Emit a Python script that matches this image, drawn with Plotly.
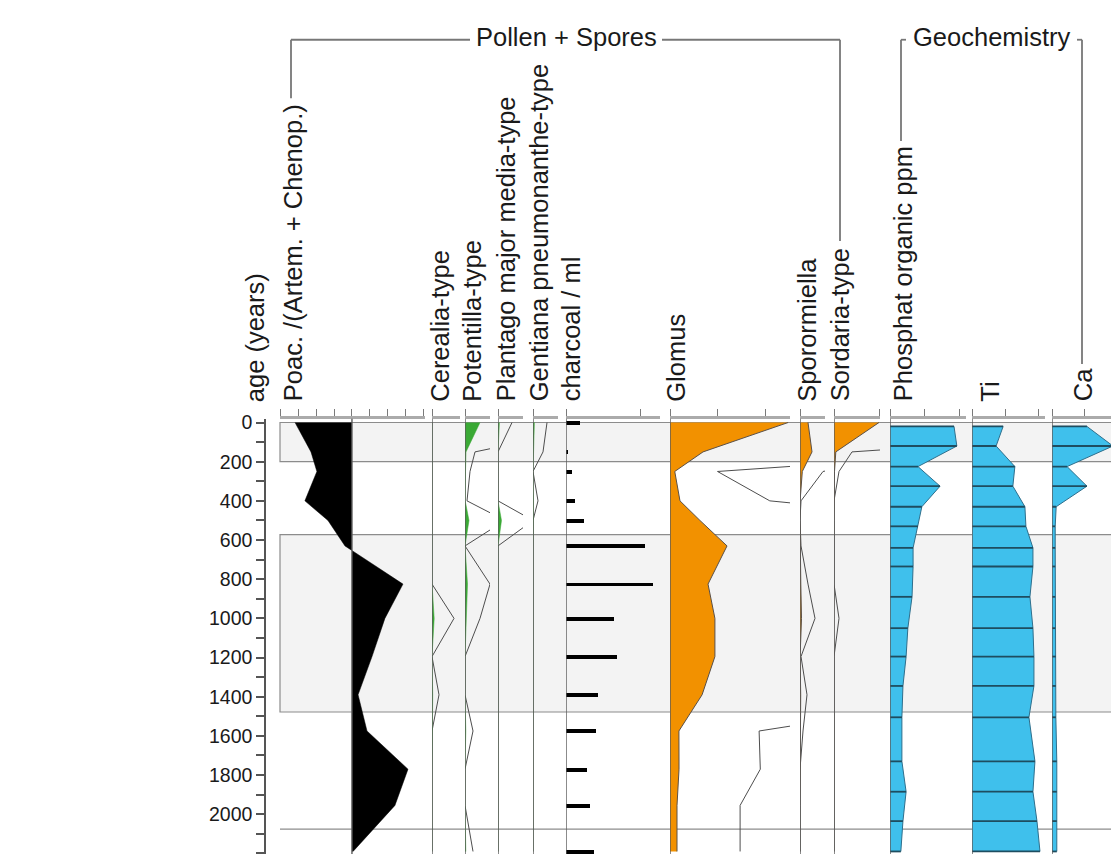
import plotly.graph_objects as go

W, H = 1111, 854

# ---------------- data ----------------
# sample ages (years) of the pollen / spore / charcoal samples
pollen_ages = [0, 150, 250, 400, 500, 630, 825, 1000, 1195, 1390, 1575, 1770, 1955, 2190]
# sample ages (years) of the geochemistry samples
geo_ages = [20, 120, 225, 325, 430, 530, 640, 735, 890, 1050, 1195, 1345, 1505, 1730, 1885, 2035, 2190]

# Poac. / (Artem. + Chenop.) ratio, centred on the column baseline
poac_ratio = [-3.18, -2.29, -1.96, -2.63, -1.34, -0.39, 2.85, 1.84, 1.12, 0.34, 0.84, 3.13, 2.40, 0.06]
# pollen percentages
cerealia = [0, 0, 0, 0, 0, 0, 0, 0.22, 0, 0.07, 0, 0, 0, 0]
potentilla = [1.5, 0.10, 0.05, 0.02, 0.40, 0, 0.25, 0.15, 0, 0, 0.08, 0, 0, 0.08]
plantago = [0.14, 0, 0, 0, 0.35, 0, 0, 0, 0, 0, 0, 0, 0, 0]
gentiana = [0.14, 0.10, 0, 0.05, 0, 0, 0, 0, 0, 0, 0, 0, 0, 0]
# charcoal particles / ml
charcoal = [1900, 300, 800, 1200, 2400, 10700, 11800, 6500, 6900, 4300, 4000, 2800, 3200, 3800]
# fungal spores (%)
glomus = [49.7, 13.9, 2.0, 4.2, 12.6, 24.0, 16.0, 18.9, 18.9, 13.5, 3.75, 3.8, 2.95, 2.95]
sporormiella = [0.8, 1.2, 0.23, 0.01, 0, 0.01, 0.08, 0.15, 0.01, 0.07, 0.03, 0, 0, 0]
sordaria = [4.5, 0.18, 0.05, 0, 0, 0, 0, 0.05, 0, 0, 0, 0, 0, 0]
# geochemistry
phosphat = [915, 955, 400, 715, 455, 400, 330, 330, 315, 255, 230, 185, 170, 170, 230, 185, 155]
ti = [0.93, 0.72, 1.28, 1.22, 1.58, 1.61, 1.82, 1.82, 1.73, 1.82, 1.85, 1.85, 1.70, 1.88, 1.82, 1.94, 2.03]
ca = [1.09, 1.90, 0.47, 1.09, 0.13, 0.10, 0.10, 0.10, 0.10, 0.10, 0.12, 0.12, 0.12, 0.15, 0.15, 0.15, 0.15]

# zones (years)
zone_boxes = [(0, 200), (572, 1478)]
zone_line = 2076

# column labels
age_label = "age (years)"
col_labels = ["Poac. /(Artem. + Chenop.)", "Cerealia-type", "Potentilla-type",
              "Plantago major media-type", "Gentiana pneumonanthe-type", "charcoal / ml",
              "Glomus", "Sporormiella", "Sordaria-type", "Phosphat organic ppm", "Ti", "Ca"]
group_labels = ["Pollen + Spores", "Geochemistry"]

EXAG = 10
AGE_RANGE = [2203, -20]

# ---------------- layout helpers ----------------
def px(x):
    return x / W


def py(y):
    return 1 - y / H


# column geometry: pixel domain, axis range, tick values
columns = [
    dict(dom=(280, 425), rng=(-4.02, 4.08), ticks=[-4, -3, -2, -1, 0, 1, 2, 3, 4]),
    dict(dom=(432, 460), rng=(0, 2.8), ticks=[0]),
    dict(dom=(465, 490), rng=(0, 2.5), ticks=[0]),
    dict(dom=(498, 523), rng=(0, 2.5), ticks=[0]),
    dict(dom=(533, 558), rng=(0, 2.5), ticks=[0]),
    dict(dom=(566, 660), rng=(0, 12700), ticks=[0, 10000]),
    dict(dom=(670, 790), rng=(0, 50.5), ticks=[0, 20, 40]),
    dict(dom=(800, 825), rng=(0, 2.5), ticks=[0]),
    dict(dom=(834, 880), rng=(0, 4.6), ticks=[0, 4.5]),
    dict(dom=(890, 966), rng=(0, 1086), ticks=[0, 500, 1000]),
    dict(dom=(972, 1045), rng=(0, 2.18), ticks=[0, 1, 2]),
    dict(dom=(1052, 1111), rng=(0, 1.84), ticks=[0, 1]),
]
label_x = [293, 440, 472, 506, 539, 571, 676, 807, 840, 903, 990, 1083]

BLACK = "#000000"
GREEN = "#3aa935"
ORANGE = "#f29100"
BLUE = "#3fc0ec"
EDGE = "#555555"

fig = go.Figure()


def ax(i):
    return "x" if i == 0 else f"x{i + 1}"


def profile(i, vals, ages, fill, edge=EDGE, width=1.0):
    fig.add_trace(go.Scatter(x=vals, y=ages, xaxis=ax(i), yaxis="y", mode="lines",
                             fill="tozerox", fillcolor=fill,
                             line=dict(color=edge, width=width), hoverinfo="skip"))


def exaggerated(i, vals, ages):
    fig.add_trace(go.Scatter(x=[v * EXAG for v in vals], y=ages, xaxis=ax(i), yaxis="y",
                             mode="lines", line=dict(color="#4d4d4d", width=1),
                             hoverinfo="skip"))


# Poac ratio (black silhouette around the baseline)
profile(0, poac_ratio, pollen_ages, BLACK, edge=BLACK, width=0.5)

# pollen types: exaggeration curve + raw values in green
for i, vals in [(1, cerealia), (2, potentilla), (3, plantago), (4, gentiana)]:
    exaggerated(i, vals, pollen_ages)
    profile(i, vals, pollen_ages, GREEN, edge=GREEN, width=0.5)

# charcoal bars
fig.add_trace(go.Bar(x=charcoal, y=pollen_ages, orientation="h", width=20,
                     marker=dict(color=BLACK, line=dict(width=0)),
                     xaxis=ax(5), yaxis="y", hoverinfo="skip"))

# fungal spores
for i, vals in [(6, glomus), (7, sporormiella), (8, sordaria)]:
    exaggerated(i, vals, pollen_ages)
    profile(i, vals, pollen_ages, ORANGE, edge="#5a5048", width=1)

# geochemistry: filled profile with a line at every sample
for i, vals in [(9, phosphat), (10, ti), (11, ca)]:
    profile(i, vals, geo_ages, BLUE, edge="#2f6f8c", width=1)
    xs, ys = [], []
    for a, v in zip(geo_ages, vals):
        xs += [0, v, None]
        ys += [a, a, None]
    fig.add_trace(go.Scatter(x=xs, y=ys, xaxis=ax(i), yaxis="y", mode="lines",
                             line=dict(color="#1e4d60", width=1.8), hoverinfo="skip"))

# ---------------- axes ----------------
layout = dict(
    width=W, height=H,
    margin=dict(l=0, r=0, t=0, b=0),
    paper_bgcolor="white", plot_bgcolor="rgba(0,0,0,0)",
    showlegend=False,
    bargap=0,
    font=dict(family="Liberation Sans, Arial, sans-serif", color="#1a1a1a"),
)

layout["yaxis"] = dict(
    domain=[0, py(415)], range=AGE_RANGE, anchor="free", position=px(265),
    showline=True, linecolor="#555555", linewidth=1.5,
    ticks="outside", ticklen=8, tickcolor="#555555", tickwidth=1.5,
    tick0=0, dtick=200, tickfont=dict(size=19.5, color="#1a1a1a"),
    minor=dict(dtick=100, ticks="outside", ticklen=8, tickcolor="#555555", tickwidth=1.5),
    showgrid=False, zeroline=False, fixedrange=True,
)

for i, c in enumerate(columns):
    key = "xaxis" if i == 0 else f"xaxis{i + 1}"
    layout[key] = dict(
        domain=[px(c["dom"][0]), px(c["dom"][1])], range=list(c["rng"]),
        anchor="y", side="top",
        showline=True, linecolor="#ababab", linewidth=3,
        ticks="outside", ticklen=7, tickcolor="#7a7a7a", tickwidth=1.3,
        tickvals=c["ticks"], showticklabels=False,
        showgrid=False, zeroline=False, fixedrange=True,
    )

shapes = []
# zone boxes and zone boundary
for a0, a1 in zone_boxes:
    shapes.append(dict(type="rect", xref="paper", yref="y", x0=px(280), x1=1.02,
                       y0=a0, y1=a1, fillcolor="#f3f3f3",
                       line=dict(color="#8c8c8c", width=1.2), layer="below"))
shapes.append(dict(type="line", xref="paper", yref="y", x0=px(280), x1=1.02,
                   y0=zone_line, y1=zone_line, line=dict(color="#8c8c8c", width=1.2),
                   layer="below"))

# column base lines
for i in range(len(columns)):
    shapes.append(dict(type="line", xref=ax(i), yref="y", x0=0, x1=0,
                       y0=AGE_RANGE[1], y1=AGE_RANGE[0],
                       line=dict(color="#5a5a5a", width=1.4), layer="above"))

# group brackets
bracket = dict(color="#777777", width=1.8)
for (x0, y0, x1, y1) in [
    (291, 33, 291, 92), (291, 33, 470, 33), (662, 33, 840, 33), (840, 33, 840, 236),
    (901, 33, 901, 135), (901, 33, 906, 33), (1082, 33, 1082, 360), (1077, 33, 1082, 33),
]:
    shapes.append(dict(type="line", xref="paper", yref="paper",
                       x0=px(x0), y0=py(y0), x1=px(x1), y1=py(y1), line=bracket))
layout["shapes"] = shapes

annotations = []
label_font = dict(size=25.5, color="#1a1a1a", family="Liberation Sans, Arial, sans-serif")
annotations.append(dict(text=age_label, x=px(255), y=py(400), xref="paper", yref="paper",
                        textangle=-90, xanchor="center", yanchor="bottom",
                        showarrow=False, font=label_font))
for lx, t in zip(label_x, col_labels):
    annotations.append(dict(text=t, x=px(lx), y=py(400), xref="paper", yref="paper",
                            textangle=-90, xanchor="center", yanchor="bottom",
                            showarrow=False, font=label_font))
for t, cx in zip(group_labels, [566, 992]):
    annotations.append(dict(text=t, x=px(cx), y=py(30), xref="paper", yref="paper",
                            xanchor="center", yanchor="middle", showarrow=False,
                            font=label_font))
layout["annotations"] = annotations

fig.update_layout(**layout)
fig.write_html("out.html")
